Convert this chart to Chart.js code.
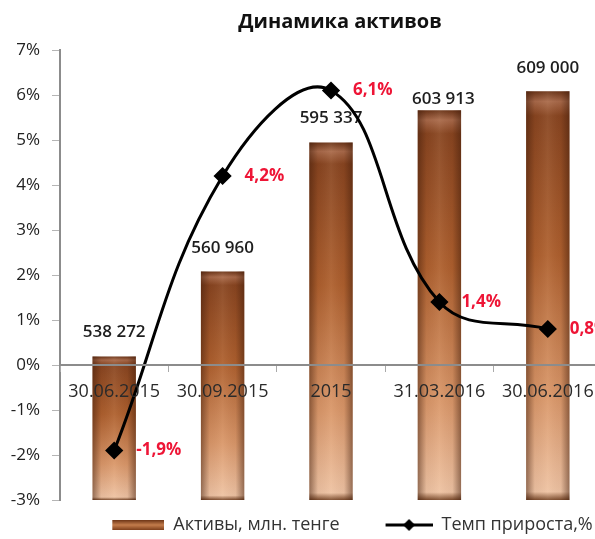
<!DOCTYPE html>
<html>
<head>
<meta charset="utf-8">
<script src="https://cdn.jsdelivr.net/npm/chart.js@4.4.1/dist/chart.umd.min.js"></script>
<style>
  html, body { margin: 0; padding: 0; background: #fff; overflow: hidden; }
</style>
</head>
<body>
<canvas id="assetsChart" width="680" height="539"></canvas>
<script>
var dates = ['30.06.2015', '30.09.2015', '2015', '31.03.2016', '30.06.2016'];
var assets = [538272, 560960, 595337, 603913, 609000];
var growth = [-1.9, 4.2, 6.1, 1.4, 0.8];
var percentTicks = [-3, -2, -1, 0, 1, 2, 3, 4, 5, 6, 7];
var assetsMin = 500000, assetsMax = 620000;

// how far each asset label sits above its bar (the 4th one is squeezed by the line)
var labelLift = [24, 23, 24, 11, 23];
var labelShift = [0, 0, 0, 4, 0];

var FONT = '"Open Sans", "DejaVu Sans", sans-serif';

function fmt(n) {
    return String(n).replace(/\B(?=(\d{3})+(?!\d))/g, ' ');
}
function pct(v) {
    return v.toFixed(1).replace('.', ',') + '%';
}

function barFill(ctx) {
    var chart = ctx.chart, area = chart.chartArea;
    if (!area || ctx.type !== 'data') return '#b0622f';
    var top = chart.scales.y2.getPixelForValue(ctx.raw);
    var g = chart.ctx.createLinearGradient(0, top, 0, area.bottom);
    g.addColorStop(0, '#6a3418');
    g.addColorStop(0.025, '#a8694a');
    g.addColorStop(0.06, '#874420');
    g.addColorStop(0.4, '#ad5f2e');
    g.addColorStop(0.75, '#d9976a');
    g.addColorStop(0.98, '#eec3a4');
    g.addColorStop(1, '#7a4a2c');
    return g;
}

// legend icons: transparent lead-in on the left keeps the gap between the two items
function barIcon() {
    var cv = document.createElement('canvas');
    cv.width = 77; cv.height = 12;
    var c = cv.getContext('2d');
    var g = c.createLinearGradient(0, 1, 0, 11);
    g.addColorStop(0, '#6e3516');
    g.addColorStop(0.5, '#c47d4c');
    g.addColorStop(1, '#7e3f1b');
    c.fillStyle = g;
    c.fillRect(25, 1, 52, 10);
    return cv;
}
function lineIcon() {
    var cv = document.createElement('canvas');
    cv.width = 77; cv.height = 14;
    var c = cv.getContext('2d');
    c.strokeStyle = '#000';
    c.lineWidth = 3;
    c.beginPath(); c.moveTo(30, 7); c.lineTo(77, 7); c.stroke();
    c.fillStyle = '#000';
    c.beginPath();
    c.moveTo(53.5, 1); c.lineTo(59.5, 7); c.lineTo(53.5, 13); c.lineTo(47.5, 7);
    c.closePath(); c.fill();
    return cv;
}
var legendIcons = [barIcon(), lineIcon()];

var barShade = {
    id: 'barShade',
    afterDatasetDraw: function(chart, args) {
        if (args.index !== 0) return;
        var c = chart.ctx;
        c.save();
        args.meta.data.forEach(function(bar, i) {
            var l = bar.x - bar.width / 2;
            var g = c.createLinearGradient(l, 0, l + bar.width, 0);
            g.addColorStop(0, 'rgba(60,25,8,0.5)');
            g.addColorStop(0.2, 'rgba(60,25,8,0.05)');
            g.addColorStop(0.5, 'rgba(255,230,200,0.08)');
            g.addColorStop(0.8, 'rgba(60,25,8,0.05)');
            g.addColorStop(1, 'rgba(60,25,8,0.5)');
            c.fillStyle = g;
            c.fillRect(l, bar.y, bar.width, bar.base - bar.y);
            c.font = '600 17px ' + FONT;
            c.fillStyle = '#1e1e1e';
            c.textAlign = 'center';
            c.textBaseline = 'middle';
            c.fillText(fmt(assets[i]), bar.x + labelShift[i], bar.y - labelLift[i]);
        });
        c.restore();
    }
};

var growthLabels = {
    id: 'growthLabels',
    afterDraw: function(chart) {
        var c = chart.ctx;
        c.save();
        c.font = 'bold 17px ' + FONT;
        c.fillStyle = '#ee1536';
        c.textAlign = 'left';
        c.textBaseline = 'middle';
        chart.getDatasetMeta(1).data.forEach(function(pt, i) {
            c.fillText(pct(growth[i]), pt.x + 22, pt.y);
        });
        c.restore();
    }
};

var ctx = document.getElementById('assetsChart').getContext('2d');
var assetsChart = new Chart(ctx, {
    type: 'bar',
    data: {
        labels: dates,
        datasets: [{
            type: 'bar',
            label: 'Активы, млн. тенге',
            data: assets,
            yAxisID: 'y2',
            base: assetsMin,
            backgroundColor: barFill,
            borderWidth: 0,
            barPercentage: 0.4,
            categoryPercentage: 1,
            order: 1
        }, {
            type: 'line',
            label: 'Темп прироста,%',
            data: growth,
            yAxisID: 'y',
            borderColor: '#000',
            borderWidth: 3,
            tension: 0.4,
            pointStyle: 'rectRot',
            pointRadius: 7,
            pointBackgroundColor: '#000',
            pointBorderColor: '#000',
            fill: false,
            order: 0
        }]
    },
    options: {
        responsive: false,
        animation: false,
        layout: { padding: { bottom: -5 } },
        plugins: {
            title: {
                display: true,
                text: 'Динамика активов',
                color: '#111',
                font: { family: FONT, size: 20, weight: 'bold' },
                padding: { top: 10, bottom: 16 }
            },
            legend: {
                position: 'bottom',
                labels: {
                    usePointStyle: true,
                    pointStyleWidth: 77,
                    padding: 16,
                    color: '#333',
                    font: { family: FONT, size: 18 },
                    generateLabels: function(chart) {
                        return chart.data.datasets.map(function(ds, i) {
                            return {
                                text: ds.label,
                                pointStyle: legendIcons[i],
                                datasetIndex: i,
                                fillStyle: 'transparent',
                                strokeStyle: 'transparent',
                                lineWidth: 0,
                                fontColor: '#333',
                                hidden: false
                            };
                        });
                    }
                }
            },
            tooltip: { enabled: false }
        },
        scales: {
            x: {
                position: { y: 0 },
                offset: true,
                grid: { display: true, drawOnChartArea: false, drawTicks: true, tickLength: 6, color: '#aaa', offset: true, z: 1 },
                border: { display: true, color: '#8c8c8c', width: 2, z: 1 },
                ticks: { color: '#2a2a2a', padding: 10, z: 1, font: { family: FONT, size: 18 } }
            },
            y: {
                position: 'left',
                min: -3,
                max: 7,
                afterBuildTicks: function(scale) {
                    scale.ticks = percentTicks.map(function(v) { return { value: v }; });
                },
                afterFit: function(scale) { scale.width = 60; },
                grid: { display: true, drawOnChartArea: false, drawTicks: true, tickLength: 8, color: '#b5b5b5' },
                border: { display: true, color: '#8c8c8c', width: 2 },
                ticks: {
                    color: '#222',
                    padding: 12,
                    font: { family: FONT, size: 17 },
                    callback: function(v) { return v + '%'; }
                }
            },
            y2: {
                position: 'right',
                min: assetsMin,
                max: assetsMax,
                afterFit: function(scale) { scale.width = 680 - 602; },
                grid: { display: false },
                border: { display: false },
                ticks: { display: false }
            }
        }
    },
    plugins: [barShade, growthLabels]
});
</script>
</body>
</html>
